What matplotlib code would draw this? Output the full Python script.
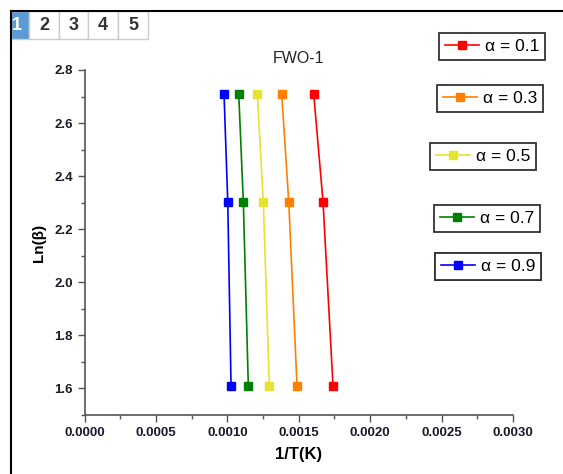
import numpy as np
import matplotlib.pyplot as plt
from matplotlib.patches import Rectangle
from matplotlib.lines import Line2D
from matplotlib.ticker import MultipleLocator

plt.rcParams['font.family'] = ['Liberation Sans', 'DejaVu Sans']

# data
ln_beta = [2.708, 2.303, 1.609]
alphas = ['0.1', '0.3', '0.5', '0.7', '0.9']
inv_T = [
    [0.001605, 0.001670, 0.001740],
    [0.001381, 0.001430, 0.001488],
    [0.001210, 0.001252, 0.001294],
    [0.001080, 0.001112, 0.001147],
    [0.000977, 0.001003, 0.001026],
]
colors = ['#ff0000', '#ff8000', '#e6e232', '#008000', '#0000ff']
tabs = ['1', '2', '3', '4', '5']

W, H = 563, 474
fig = plt.figure(figsize=(W/100, H/100), dpi=100)
ax = fig.add_axes([84.5/W, 1-415/H, (513-84.5)/W, (415-70)/H])

lines = []
for i in range(len(alphas)):
    l, = ax.plot(inv_T[i], ln_beta, '-s', color=colors[i], lw=1.2, ms=5.5,
                 label='α = ' + alphas[i])
    lines.append(l)

ax.set_xlim(0, 0.003)
ax.set_ylim(1.5, 2.8)
ax.xaxis.set_major_locator(MultipleLocator(0.0005))
ax.xaxis.set_minor_locator(MultipleLocator(0.00025))
ax.yaxis.set_major_locator(MultipleLocator(0.2))
ax.yaxis.set_minor_locator(MultipleLocator(0.1))
ax.xaxis.set_major_formatter(plt.FormatStrFormatter('%.4f'))
ax.yaxis.set_major_formatter(plt.FormatStrFormatter('%.1f'))
for s in ['top', 'right']:
    ax.spines[s].set_visible(False)
for s in ['left', 'bottom']:
    ax.spines[s].set_color('#555555')
    ax.spines[s].set_linewidth(1.2)
ax.tick_params(which='major', direction='out', length=5, width=1, color='#555555',
               labelsize=9.5, labelcolor='#1a1a2a')
ax.tick_params(which='minor', direction='out', length=3, width=1, color='#555555')
for t in ax.get_xticklabels() + ax.get_yticklabels():
    t.set_fontweight('bold')

ax.set_xlabel('1/T(K)', fontsize=12, fontweight='bold', labelpad=6)
ax.set_ylabel('Ln(β)', fontsize=11, fontweight='bold', labelpad=6)
ax.set_title('FWO-1', fontsize=11.5, color='#222222', pad=5)

# separate legend boxes
anchors = [(439, 33), (437, 85), (430, 143), (434, 205), (435, 253)]
for i, l in enumerate(lines):
    leg = ax.legend(handles=[l], loc='upper left',
                    bbox_to_anchor=(anchors[i][0]/W, 1-anchors[i][1]/H),
                    bbox_transform=fig.transFigure, borderaxespad=0,
                    fontsize=12.5, handlelength=1.95, handletextpad=0.35,
                    borderpad=0.35, fancybox=False, framealpha=1)
    leg.get_frame().set_edgecolor('#333333')
    leg.get_frame().set_linewidth(1.3)
    ax.add_artist(leg)

# screenshot frame
fig.add_artist(Line2D([10.5/W, 10.5/W], [0, 1-10.5/H], color='black', lw=1.5,
                      transform=fig.transFigure))
fig.add_artist(Line2D([10.5/W, 1], [1-10.5/H, 1-10.5/H], color='black', lw=1.5,
                      transform=fig.transFigure))

# tab strip
tab_x = [11, 29, 59, 88, 118, 148]
for i, t in enumerate(tabs):
    x0, x1 = tab_x[i], tab_x[i+1]
    fc = '#5b9bd5' if i == 0 else 'white'
    fig.add_artist(Rectangle((x0/W, 1-39/H), (x1-x0)/W, 28/H, facecolor=fc,
                             edgecolor='#cccccc', lw=1, transform=fig.transFigure))
    fig.text((x0+x1)/2/W - (0.006 if i == 0 else 0), 1-25/H, t, ha='center', va='center',
             fontsize=13, fontweight='bold',
             color='white' if i == 0 else '#333333')

fig.savefig('out.png', dpi=100)
